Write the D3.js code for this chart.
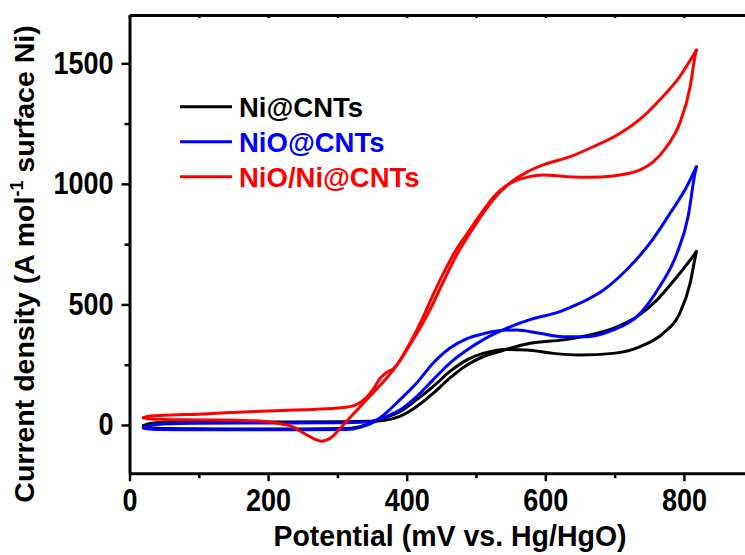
<!DOCTYPE html>
<html>
<head>
<meta charset="utf-8">
<script src="https://cdn.jsdelivr.net/npm/d3@7"></script>
<style>
  body { margin: 0; background: #fff; }
  svg { display: block; }
  text { font-family: "Liberation Sans", Arial, sans-serif; font-weight: bold; }
</style>
</head>
<body>
<script>
// series names / colours (legend order)
const seriesNames = ["Ni@CNTs", "NiO@CNTs", "NiO/Ni@CNTs"];
const seriesColors = ["#000000", "#0000ff", "#ff0000"];

// axis ticks
const xMajorTicks = [0, 200, 400, 600, 800];
const xMinorTicks = [100, 300, 500, 700];
const yMajorTicks = [0, 500, 1000, 1500];
const yMinorTicks = [250, 750, 1250];

// Ni@CNTs, forward (anodic) scan: potential (mV) / current density
const niFwdPot = [20, 30, 50, 100, 200, 300, 340, 366, 390, 414, 438, 462, 487, 510, 535, 578, 626, 664, 698, 732, 761, 790, 809, 818];
const niFwdCur = [-3, 6, 10, 11, 12, 13, 15, 19, 36, 76, 131, 194, 249, 283, 306, 339, 353, 373, 401, 449, 518, 615, 684, 719];
// Ni@CNTs, reverse scan
const niRevPot = [818, 816, 809, 794, 770, 737, 698, 650, 611, 573, 544, 525, 510, 487, 462, 438, 414, 390, 366, 350, 330, 310, 250, 150, 80, 40, 25, 20];
const niRevCur = [719, 691, 588, 463, 380, 325, 297, 290, 297, 311, 313, 307, 297, 270, 221, 159, 104, 55, 28, 10, -8, -15, -17, -17, -16, -14, -9, -3];

// NiO@CNTs
const nioFwdPot = [20, 30, 50, 100, 200, 300, 342, 360, 376, 390, 414, 438, 462, 487, 510, 530, 550, 578, 621, 650, 684, 717, 751, 780, 804, 818];
const nioFwdCur = [-12, -1, 4, 7, 8, 9, 12, 24, 42, 62, 117, 187, 256, 311, 353, 383, 408, 437, 470, 505, 560, 643, 754, 878, 988, 1071];
const nioRevPot = [818, 816, 806, 790, 765, 737, 698, 660, 626, 592, 559, 530, 510, 487, 462, 438, 414, 390, 366, 352, 333, 313, 250, 150, 80, 40, 25, 20];
const nioRevCur = [1071, 1044, 864, 712, 574, 463, 394, 366, 366, 380, 394, 390, 378, 358, 318, 256, 173, 104, 40, 12, -10, -19, -20, -20, -20, -19, -16, -12];

// NiO/Ni@CNTs
const hybFwdPot = [20, 30, 50, 100, 174, 250, 300, 318, 330, 342, 352, 362, 371, 380, 390, 400, 419, 434, 453, 472, 490, 506, 525, 547, 574, 598, 636, 669, 708, 741, 765, 794, 818];
const hybFwdCur = [30, 37, 40, 45, 55, 63, 70, 76, 88, 115, 150, 195, 218, 232, 265, 311, 401, 480, 595, 705, 790, 860, 935, 999, 1050, 1080, 1113, 1154, 1210, 1279, 1348, 1445, 1555];
const hybRevPot = [818, 816, 809, 794, 775, 756, 737, 698, 664, 631, 597, 574, 555, 540, 525, 506, 490, 470, 455, 440, 420, 400, 385, 366, 342, 318, 305, 294, 285, 277, 268, 260, 246, 236, 220, 203, 174, 100, 50, 30, 20];
const hybRevCur = [1555, 1528, 1403, 1251, 1154, 1092, 1058, 1033, 1027, 1030, 1037, 1028, 1010, 985, 945, 872, 805, 720, 640, 552, 425, 315, 245, 178, 105, 30, -10, -45, -62, -67, -60, -48, -25, -8, 4, 12, 18, 21, 23, 25, 30];

const branches = [
  [niFwdPot, niFwdCur, 0], [niRevPot, niRevCur, 0],
  [nioFwdPot, nioFwdCur, 1], [nioRevPot, nioRevCur, 1],
  [hybFwdPot, hybFwdCur, 2], [hybRevPot, hybRevCur, 2]
];

const width = 745, height = 555;
const tickStretch = "scale(1,1.13)";

const x = d3.scaleLinear().domain([0, 900]).range([129.5, 753.2]);
const y = d3.scaleLinear().domain([-200, 1700]).range([473.2, 15.1]);

const svg = d3.select("body").append("svg")
  .attr("width", width)
  .attr("height", height);

// curves
const line = d3.line()
  .x(d => x(d[0]))
  .y(d => y(d[1]))
  .curve(d3.curveMonotoneX);

svg.append("g")
  .attr("fill", "none")
  .attr("stroke-width", 3)
  .attr("stroke-linejoin", "round")
  .attr("stroke-linecap", "round")
  .selectAll("path")
  .data(branches)
  .join("path")
  .attr("stroke", d => seriesColors[d[2]])
  .attr("d", d => line(d3.sort(d[0].map((p, i) => [p, d[1][i]]), p => p[0])));

// axes
function styleAxis(g) {
  g.select(".domain").attr("stroke-width", 3);
  g.selectAll(".tick line").attr("stroke-width", 2.5);
  g.selectAll("text")
    .attr("font-size", 27)
    .attr("fill", "#000")
    .attr("transform", tickStretch);
}

svg.append("g")
  .attr("transform", `translate(0,${y(-200)})`)
  .call(d3.axisBottom(x).tickValues(xMajorTicks).tickSize(8).tickSizeOuter(0).tickPadding(6).tickFormat(d3.format("d")))
  .call(styleAxis);

svg.append("g")
  .attr("transform", `translate(0,${y(-200)})`)
  .call(d3.axisBottom(x).tickValues(xMinorTicks).tickSize(5).tickFormat(""))
  .call(g => g.select(".domain").remove())
  .call(styleAxis);

svg.append("g")
  .attr("transform", `translate(${x(0)},0)`)
  .call(d3.axisLeft(y).tickValues(yMajorTicks).tickSize(8).tickSizeOuter(0).tickPadding(8).tickFormat(d3.format("d")))
  .call(styleAxis);

svg.append("g")
  .attr("transform", `translate(${x(0)},0)`)
  .call(d3.axisLeft(y).tickValues(yMinorTicks).tickSize(5).tickFormat(""))
  .call(g => g.select(".domain").remove())
  .call(styleAxis);

// top and right frame
svg.append("g")
  .attr("transform", `translate(0,${y(1700)})`)
  .call(d3.axisBottom(x).tickValues(xMajorTicks.concat(xMinorTicks)).tickSize(3).tickSizeOuter(0).tickFormat(""))
  .call(styleAxis);

svg.append("g")
  .attr("transform", `translate(${x(900)},0)`)
  .call(d3.axisLeft(y).tickValues([]).tickSizeOuter(0))
  .call(styleAxis);

// axis titles
svg.append("text")
  .attr("transform", "translate(450,546) scale(1,1.05)")
  .attr("text-anchor", "middle")
  .attr("font-size", 28.5)
  .text("Potential (mV vs. Hg/HgO)");

const yTitle = svg.append("text")
  .attr("transform", "translate(34,264) rotate(-90)")
  .attr("text-anchor", "middle")
  .attr("font-size", 28.5);
yTitle.append("tspan").text("Current density (A mol");
yTitle.append("tspan").attr("font-size", 18).attr("dy", -11).text("-1");
yTitle.append("tspan").attr("dy", 11).text(" surface Ni)");

// legend
const legend = svg.append("g")
  .selectAll("g")
  .data(seriesNames)
  .join("g")
  .attr("transform", (d, i) => `translate(180,${106.7 + i * 35})`);

legend.append("line")
  .attr("x1", 0).attr("x2", 52)
  .attr("stroke", (d, i) => seriesColors[i])
  .attr("stroke-width", 3);

legend.append("text")
  .attr("x", 59)
  .attr("y", 0)
  .attr("dy", "0.36em")
  .attr("font-size", 27.5)
  .attr("fill", (d, i) => seriesColors[i])
  .text(d => d);
</script>
</body>
</html>
